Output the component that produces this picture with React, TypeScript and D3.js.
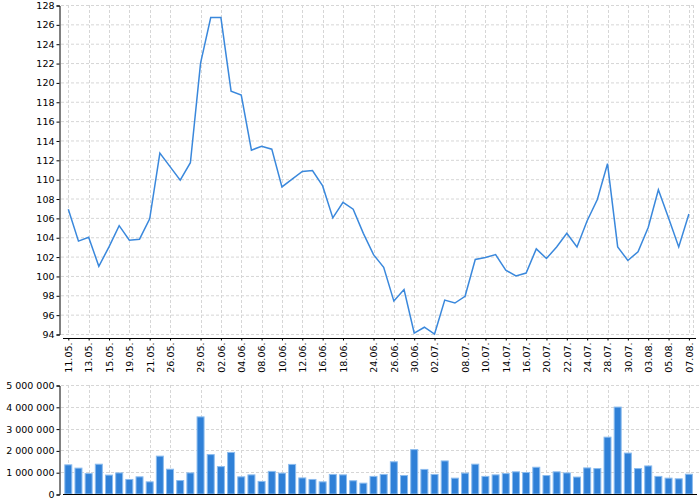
import React, { useRef, useEffect } from "react";
import * as d3 from "d3";

// trading days (dd.mm.)
const dates: string[] = [
  "11.05.", "12.05.", "13.05.", "14.05.", "15.05.", "18.05.", "19.05.", "20.05.", "21.05.", "22.05.",
  "26.05.", "27.05.", "28.05.", "29.05.", "01.06.", "02.06.", "03.06.", "04.06.", "05.06.", "08.06.",
  "09.06.", "10.06.", "11.06.", "12.06.", "15.06.", "16.06.", "17.06.", "18.06.", "19.06.", "23.06.",
  "24.06.", "25.06.", "26.06.", "29.06.", "30.06.", "01.07.", "02.07.", "06.07.", "07.07.", "08.07.",
  "09.07.", "10.07.", "13.07.", "14.07.", "15.07.", "16.07.", "17.07.", "20.07.", "21.07.", "22.07.",
  "23.07.", "24.07.", "27.07.", "28.07.", "29.07.", "30.07.", "31.07.", "03.08.", "04.08.", "05.08.",
  "06.08.", "07.08.",
];

const prices: number[] = [
  106.9, 103.6, 104.0, 101.0, 103.0, 105.2, 103.7, 103.8, 105.9, 112.7,
  111.3, 109.9, 111.7, 122.0, 126.7, 126.7, 119.1, 118.7, 113.0, 113.4,
  113.1, 109.2, 110.0, 110.8, 110.9, 109.3, 106.0, 107.6, 106.9, 104.4,
  102.2, 100.9, 97.4, 98.6, 94.1, 94.7, 94.0, 97.5, 97.2, 97.9,
  101.7, 101.9, 102.2, 100.6, 100.0, 100.3, 102.8, 101.8, 103.0, 104.4,
  103.0, 105.7, 107.9, 111.6, 103.0, 101.6, 102.5, 105.0, 108.9, 106.0,
  103.0, 106.4,
];

const volumes: number[] = [
  1360000, 1210000, 960000, 1390000, 890000, 990000, 690000, 810000, 580000, 1760000,
  1160000, 640000, 990000, 3560000, 1830000, 1280000, 1930000, 810000, 900000, 600000,
  1060000, 980000, 1380000, 760000, 690000, 580000, 920000, 900000, 630000, 520000,
  830000, 920000, 1500000, 870000, 2060000, 1150000, 920000, 1540000, 750000, 980000,
  1390000, 830000, 900000, 960000, 1040000, 1010000, 1250000, 870000, 1040000, 990000,
  800000, 1220000, 1190000, 2630000, 4010000, 1900000, 1190000, 1310000, 830000, 750000,
  720000, 930000,
];

const tickDates: string[] = [
  "11.05.", "13.05.", "15.05.", "19.05.", "21.05.", "26.05.", "29.05.", "02.06.", "04.06.", "08.06.",
  "10.06.", "12.06.", "16.06.", "18.06.", "24.06.", "26.06.", "30.06.", "02.07.", "08.07.", "10.07.",
  "14.07.", "16.07.", "20.07.", "22.07.", "24.07.", "28.07.", "30.07.", "03.08.", "05.08.", "07.08.",
];

const priceTicks: number[] = d3.range(94, 129, 2);
const volumeTicks: number[] = [0, 1000000, 2000000, 3000000, 4000000, 5000000];

const W = 700;
const H = 500;
const font = "DejaVu Sans, sans-serif";
const fontSize = 9.5;
const gridColor = "#d6d6d6";
const lineColor = "#3a88dc";
const barFill = "#2f80d7";
const barStroke = "#8cbcee";

const App: React.FC = () => {
  const svgRef = useRef<SVGSVGElement>(null);

  useEffect(() => {
    if (!svgRef.current) return;
    const svg = d3.select(svgRef.current);
    svg.selectAll("*").remove();

    const axisX = 59;
    const plotLeft = 61;
    const plotRight = 696;

    const x = d3
      .scalePoint<string>()
      .domain(dates)
      .range([68.3, 688.9]);

    const yPrice = d3.scaleLinear().domain([94, 128]).range([334, 5]);
    const yVol = d3.scaleLinear().domain([0, 5000000]).range([494, 385]);

    const fmt = d3.formatLocale({
      decimal: ",",
      thousands: " ",
      grouping: [3],
      currency: ["", ""],
    }).format(",d");

    // grids
    const grid = svg.append("g").attr("stroke", gridColor).attr("stroke-dasharray", "3,2");
    grid
      .selectAll(".hp")
      .data(priceTicks)
      .join("line")
      .attr("x1", plotLeft)
      .attr("x2", plotRight)
      .attr("y1", (d) => yPrice(d) + 0.5)
      .attr("y2", (d) => yPrice(d) + 0.5);
    grid
      .selectAll(".vp")
      .data(tickDates)
      .join("line")
      .attr("x1", (d) => Math.round(x(d) as number) + 0.5)
      .attr("x2", (d) => Math.round(x(d) as number) + 0.5)
      .attr("y1", yPrice(128))
      .attr("y2", yPrice(94));
    grid
      .append("line")
      .attr("x1", 693.5)
      .attr("x2", 693.5)
      .attr("y1", yPrice(128))
      .attr("y2", yPrice(94));

    const grid2 = svg.append("g").attr("stroke", gridColor).attr("stroke-dasharray", "3,2");
    grid2
      .selectAll(".hv")
      .data(volumeTicks.slice(1))
      .join("line")
      .attr("x1", plotLeft)
      .attr("x2", W)
      .attr("y1", (d) => Math.round(yVol(d)) + 0.5)
      .attr("y2", (d) => Math.round(yVol(d)) + 0.5);
    grid2
      .selectAll(".vv")
      .data(tickDates)
      .join("line")
      .attr("x1", (d) => Math.round(x(d) as number) + 0.5)
      .attr("x2", (d) => Math.round(x(d) as number) + 0.5)
      .attr("y1", yVol(5000000))
      .attr("y2", yVol(0));

    // price line
    const line = d3
      .line<number>()
      .x((_, i) => x(dates[i]) as number)
      .y((d) => yPrice(d));
    svg
      .append("path")
      .datum(prices)
      .attr("d", line)
      .attr("fill", "none")
      .attr("stroke", lineColor)
      .attr("stroke-width", 1.5)
      .attr("stroke-linejoin", "miter");

    // volume bars
    svg
      .append("g")
      .selectAll("rect")
      .data(volumes)
      .join("rect")
      .attr("x", (_, i) => (x(dates[i]) as number) - 3.5)
      .attr("width", 7)
      .attr("y", (d) => yVol(d) + 0.5)
      .attr("height", (d) => Math.max(0, yVol(0) - yVol(d) - 0.5))
      .attr("fill", barFill)
      .attr("stroke", barStroke)
      .attr("stroke-width", 1);

    // price y axis
    const ya = svg
      .append("g")
      .attr("transform", `translate(${axisX + 0.5},0.5)`)
      .call(d3.axisLeft(yPrice).tickValues(priceTicks).tickSize(3).tickPadding(2));
    ya.selectAll("text").attr("font-family", font).attr("font-size", fontSize).attr("fill", "#000");
    ya.selectAll("line,path").attr("stroke", "#000");

    // volume y axis
    const yv = svg
      .append("g")
      .attr("transform", `translate(${axisX + 0.5},0.5)`)
      .call(
        d3
          .axisLeft(yVol)
          .tickValues(volumeTicks)
          .tickSize(3)
          .tickPadding(2)
          .tickFormat((d) => fmt(d as number))
      );
    yv.selectAll("text").attr("font-family", font).attr("font-size", fontSize).attr("fill", "#000");
    yv.selectAll("line,path").attr("stroke", "#000");

    // price x axis
    const xa = svg
      .append("g")
      .attr("transform", `translate(0,338.5)`)
      .call(d3.axisBottom(x).tickValues(tickDates).tickSize(2).tickSizeOuter(0));
    xa.select(".domain").remove();
    xa.append("line")
      .attr("x1", 63)
      .attr("x2", 696)
      .attr("stroke", "#000");
    xa.selectAll(".tick line").attr("stroke", "#000");
    xa.selectAll(".tick text")
      .attr("font-family", font)
      .attr("font-size", fontSize)
      .attr("fill", "#000")
      .attr("transform", "rotate(-90)")
      .attr("text-anchor", "end")
      .attr("x", -4)
      .attr("y", 0)
      .attr("dy", "0.35em");

    // volume x axis line
    svg
      .append("line")
      .attr("x1", 63)
      .attr("x2", 697)
      .attr("y1", 494.5)
      .attr("y2", 494.5)
      .attr("stroke", "#000");
  }, []);

  return (
    <div style={{ position: "absolute", left: 0, top: 0 }}>
      <svg ref={svgRef} width={W} height={H} style={{ display: "block", background: "#fff" }}></svg>
    </div>
  );
};

export default App;
